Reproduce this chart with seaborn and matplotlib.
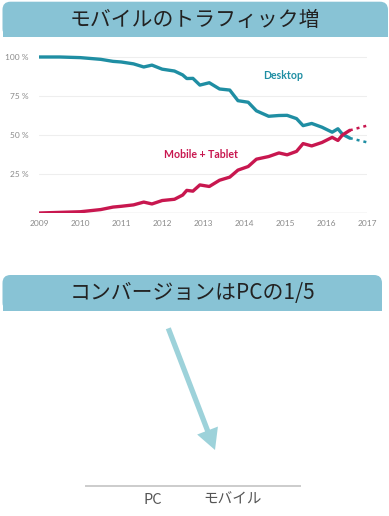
import numpy as np
import pandas as pd
import matplotlib
matplotlib.use('Agg')
import matplotlib.pyplot as plt
import seaborn as sns
from matplotlib.patches import FancyBboxPatch, Rectangle
from matplotlib.transforms import IdentityTransform

# data
years = [2009.0, 2009.5, 2010.0, 2010.5, 2010.8, 2011.0, 2011.3, 2011.55, 2011.75, 2012.0,
         2012.3, 2012.5, 2012.6, 2012.75, 2012.92, 2013.15, 2013.4, 2013.65, 2013.85, 2014.1,
         2014.3, 2014.6, 2014.85, 2015.05, 2015.28, 2015.44, 2015.65, 2015.9, 2016.15, 2016.29,
         2016.4, 2016.58]
desktop = [100, 100, 99.6, 98.5, 97.2, 96.8, 95.6, 93.6, 94.8, 92.2,
           91.0, 88.5, 86.2, 86.3, 82.0, 83.5, 79.5, 78.8, 72.0, 71.0,
           65.5, 62.0, 62.5, 62.6, 60.5, 56.0, 57.4, 55.0, 51.8, 54.0,
           50.5, 48.0]
mobile = [0, 0.4, 0.8, 2.2, 3.8, 4.3, 5.2, 7.0, 5.8, 8.0,
          8.8, 11.5, 14.5, 14.0, 18.0, 17.0, 21.0, 23.0, 27.5, 29.8,
          34.5, 36.2, 38.5, 37.3, 39.5, 44.5, 43.0, 45.2, 48.5, 46.5,
          50.0, 53.0]
forecast_years = [2016.58, 2017.0]
desktop_forecast = [48.0, 45.3]
mobile_forecast = [53.0, 56.0]

year_ticks = list(range(2009, 2018))
pct_ticks = [25, 50, 75, 100]
pct_labels = ['25 %', '50 %', '75 %', '100 %']

conv_labels = ['PC', 'モバイル']

title_top = 'モバイルのトラフィック増'
title_bottom = 'コンバージョンはPCの1/5'

teal = '#1f8ea3'
crimson = '#c8174f'
banner = '#88c3d5'

sns.set_style('white')
plt.rcParams['font.family'] = ['Lato', 'Noto Sans CJK JP', 'DejaVu Sans']

W, H = 389, 516
fig = plt.figure(figsize=(W / 100, H / 100), dpi=100)

def banner_box(x0, x1, ytop, ybot, text, size):
    # rounded top corners, square bottom
    y0 = H - ybot
    h = ybot - ytop
    fig.patches.append(FancyBboxPatch((x0, y0), x1 - x0, h,
                                      boxstyle='round,pad=0,rounding_size=8',
                                      fc=banner, ec='none', transform=IdentityTransform()))
    fig.patches.append(Rectangle((x0, y0), x1 - x0, h / 2, fc=banner, ec='none',
                                 transform=IdentityTransform()))
    fig.text((x0 + x1) / 2 / W, 1 - (ytop + h / 2 + 0.5) / H, text, ha='center', va='center',
             fontsize=size, color='#222222', family=['Noto Sans CJK JP', 'DejaVu Sans'])

banner_box(2.5, 388, 1.7, 36.7, title_top, 15)
banner_box(2.5, 382, 275, 310.7, title_bottom, 15)

# line chart
x_left, x_right = 39.3, 367
y_zero, y_hund = 213, 57
top_px = 50
ymax = (y_zero - top_px) / (y_zero - y_hund) * 100
ax = fig.add_axes([x_left / W, 1 - y_zero / H, (x_right - x_left) / W, (y_zero - top_px) / H])
ax.set_xlim(2009, 2017)
ax.set_ylim(0, ymax)

for v in pct_ticks:
    ax.axhline(v, color='#eeeeee', lw=0.8, zorder=0)
ax.axhline(0, color='#d9d9d9', lw=1.0, zorder=0)

sns.lineplot(x=years, y=desktop, ax=ax, color=teal, lw=2.4, solid_capstyle='round',
             solid_joinstyle='round')
sns.lineplot(x=years, y=mobile, ax=ax, color=crimson, lw=2.4, solid_capstyle='round',
             solid_joinstyle='round')
sns.lineplot(x=forecast_years, y=desktop_forecast, ax=ax, color=teal, lw=1.8,
             linestyle=(0, (1.2, 1.6)))
sns.lineplot(x=forecast_years, y=mobile_forecast, ax=ax, color=crimson, lw=1.8,
             linestyle=(0, (1.2, 1.6)))

ax.text(2014.96, 88.3, 'Desktop', color=teal, fontsize=7.6, fontweight='bold',
        ha='center', va='center')
ax.text(2012.95, 37.2, 'Mobile + Tablet', color=crimson, fontsize=7.6, fontweight='bold',
        ha='center', va='center')

ax.set_xticks(year_ticks)
ax.set_xticklabels([str(y) for y in year_ticks])
ax.set_yticks(pct_ticks)
ax.set_yticklabels(pct_labels)
ax.tick_params(length=0, labelsize=6, labelcolor='#8a8a8a')
ax.tick_params(axis='y', pad=8)
ax.tick_params(axis='x', pad=5)
sns.despine(ax=ax, left=True, bottom=True)
ax.set_xlabel('')
ax.set_ylabel('')

# conversion axis
b_left, b_right, b_base = 86, 300, 485.7
ax2 = fig.add_axes([b_left / W, 1 - b_base / H, (b_right - b_left) / W, 150 / H])
ax2.set_xlim(-0.822, 1.83)
ax2.set_ylim(0, 1)
ax2.set_xticks([0, 1])
ax2.set_xticklabels(conv_labels, family=['Noto Sans CJK JP', 'DejaVu Sans'])
ax2.set_yticks([])
ax2.tick_params(length=0, labelsize=10.5, labelcolor='#555555', pad=5)
sns.despine(ax=ax2, left=True)
ax2.spines['bottom'].set_color('#cccccc')
ax2.spines['bottom'].set_linewidth(1.4)
ax2.patch.set_alpha(0)

ax2.annotate('', xy=(215, H - 450), xytext=(168.3, H - 328.3),
             xycoords='figure pixels', textcoords='figure pixels',
             arrowprops=dict(arrowstyle='simple,head_length=1.5,head_width=1.6,tail_width=0.38',
                             mutation_scale=10, color='#9dd2da', shrinkA=0, shrinkB=0, lw=0))

fig.savefig('out.png', dpi=100)
